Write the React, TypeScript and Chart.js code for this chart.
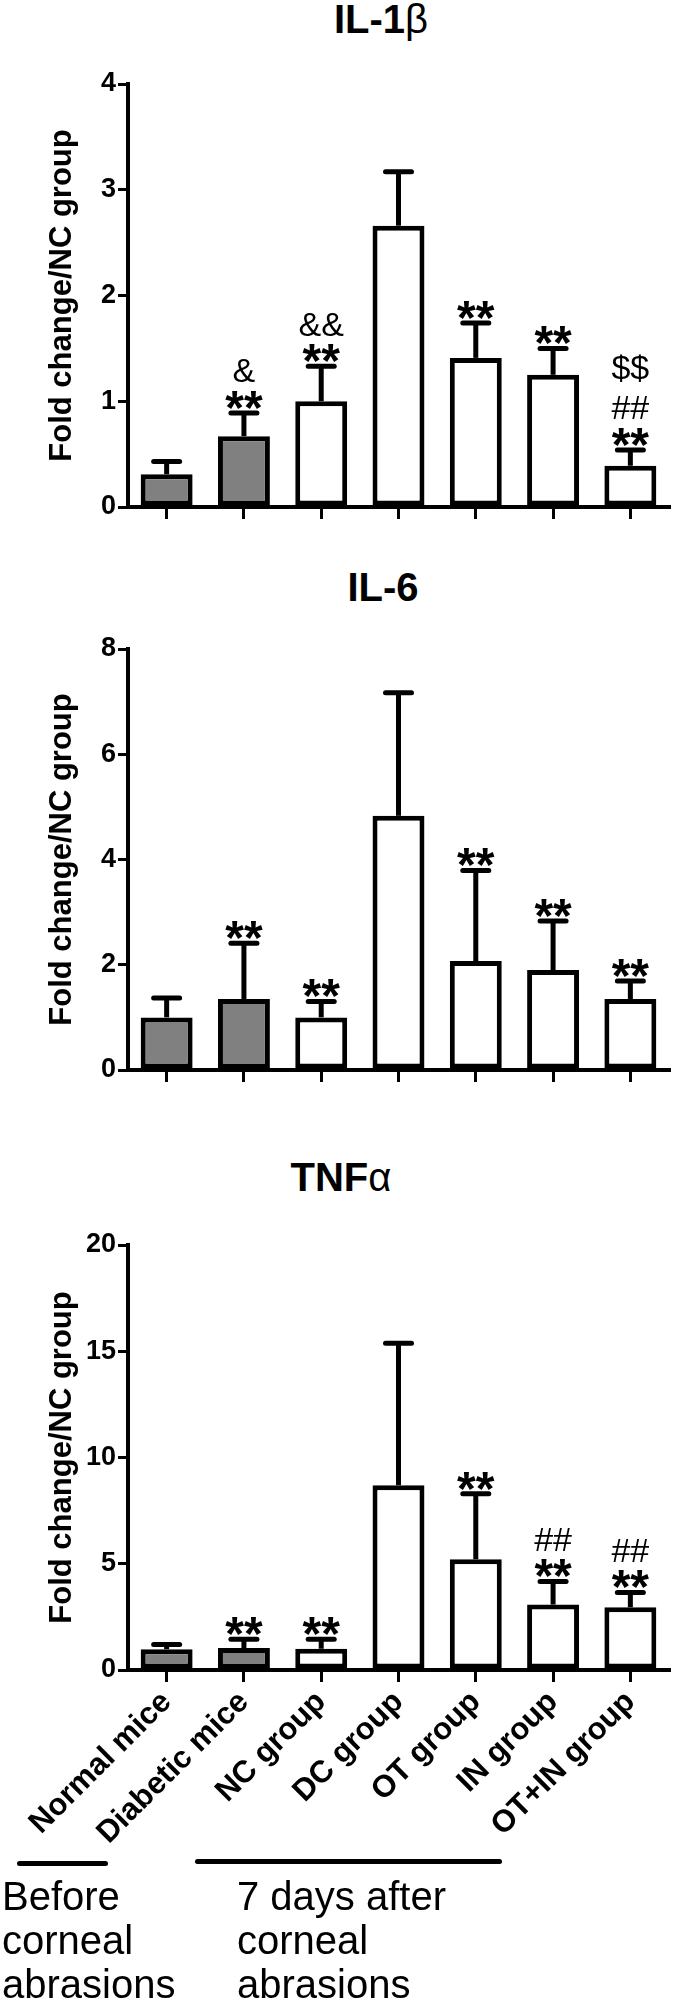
import React, { useEffect, useRef } from 'react';
import { Chart, registerables } from 'chart.js';

Chart.register(...registerables);

const FONT = "'Liberation Sans', Arial, Helvetica, sans-serif";

// ---- data ----
const categories = ['Normal mice', 'Diabetic mice', 'NC group', 'DC group', 'OT group', 'IN group', 'OT+IN group'];
const barColors = ['#808080', '#808080', '#ffffff', '#ffffff', '#ffffff', '#ffffff', '#ffffff'];

const il1bMean = [0.31, 0.67, 1.0, 2.66, 1.41, 1.25, 0.39];
const il1bErr = [0.12, 0.22, 0.33, 0.51, 0.33, 0.25, 0.15];
const il1bMarks = [[], ['**', '&'], ['**', '&&'], [], ['**'], ['**'], ['**', '##', '$$']];

const il6Mean = [1.0, 1.35, 1.0, 4.83, 2.07, 1.9, 1.35];
const il6Err = [0.37, 1.06, 0.3, 2.34, 1.72, 0.93, 0.34];
const il6Marks = [[], ['**'], ['**'], [], ['**'], ['**'], ['**']];

const tnfMean = [0.98, 1.03, 1.0, 8.7, 5.21, 3.08, 2.95];
const tnfErr = [0.22, 0.42, 0.45, 6.68, 3.09, 1.09, 0.7];
const tnfMarks = [[], ['**'], ['**'], [], ['**'], ['**', '##'], ['**', '##']];

const yTitle = 'Fold change/NC group';
const groupLabels = [['Before', 'corneal', 'abrasions'], ['7 days after', 'corneal', 'abrasions']];

type PanelProps = {
  top: number;
  height: number;
  padTop: number;
  xHeight: number;
  mean: number[];
  err: number[];
  marks: string[][];
  max: number;
  step: number;
  showLabels: boolean;
};

function Panel(p: PanelProps) {
  const ref = useRef<HTMLCanvasElement | null>(null);
  useEffect(() => {
    if (!ref.current) return;
    const errMarks = {
      id: 'errMarks',
      afterDatasetsDraw(chart: any) {
        const ctx = chart.ctx;
        const meta = chart.getDatasetMeta(0);
        const ys = chart.scales.y;
        ctx.save();
        meta.data.forEach((bar: any, i: number) => {
          const x = bar.x;
          const topPx = ys.getPixelForValue(p.mean[i]);
          const capPx = ys.getPixelForValue(p.mean[i] + p.err[i]);
          ctx.strokeStyle = '#000';
          ctx.lineWidth = 5;
          ctx.lineCap = 'butt';
          ctx.beginPath();
          ctx.moveTo(x, topPx);
          ctx.lineTo(x, capPx);
          ctx.stroke();
          ctx.lineCap = 'round';
          ctx.beginPath();
          ctx.moveTo(x - 13, capPx);
          ctx.lineTo(x + 13, capPx);
          ctx.stroke();
          let c = capPx - 16;
          ctx.fillStyle = '#000';
          ctx.textAlign = 'center';
          ctx.textBaseline = 'alphabetic';
          (p.marks[i] || []).forEach((m) => {
            if (m === '**') {
              ctx.font = `bold 48px ${FONT}`;
              ctx.fillText(m, x, c + 0.56 * 48);
              c -= 27;
            } else {
              ctx.font = `34px ${FONT}`;
              ctx.fillText(m, x, c + 0.36 * 34);
              c -= 40;
            }
          });
        });
        ctx.restore();
      },
    };
    const chart = new Chart(ref.current, {
      type: 'bar',
      data: {
        labels: categories,
        datasets: [
          {
            data: p.mean,
            backgroundColor: barColors,
            borderColor: '#000',
            borderWidth: 5,
            borderSkipped: false,
            barPercentage: 0.672,
            categoryPercentage: 1,
          },
        ],
      },
      options: {
        animation: false,
        responsive: false,
        maintainAspectRatio: false,
        devicePixelRatio: 1,
        events: [],
        layout: { padding: { top: p.padTop, right: 6, left: 0, bottom: 0 } },
        plugins: { legend: { display: false }, tooltip: { enabled: false }, title: { display: false } },
        scales: {
          x: {
            offset: true,
            grid: { offset: false, drawOnChartArea: false, drawTicks: true, tickLength: 12, lineWidth: 3, color: '#000' },
            border: { display: true, color: '#000', width: 4 },
            ticks: {
              display: p.showLabels,
              color: '#000',
              font: { family: FONT, size: 31, weight: 'bold' },
              minRotation: 45,
              maxRotation: 45,
              padding: 2,
              autoSkip: false,
            },
            afterFit: (s: any) => {
              s.height = p.xHeight;
            },
          },
          y: {
            min: 0,
            max: p.max,
            ticks: { stepSize: p.step, color: '#000', font: { family: FONT, size: 27, weight: 'bold' }, padding: 2 },
            grid: { drawOnChartArea: false, drawTicks: true, tickLength: 10, lineWidth: 3, color: '#000' },
            border: { display: true, color: '#000', width: 4 },
            title: {
              display: true,
              text: yTitle,
              color: '#000',
              font: { family: FONT, size: 31, weight: 'bold' },
              padding: { top: 44, bottom: 0 },
            },
            afterFit: (s: any) => {
              s.width = 128;
            },
          },
        },
      } as any,
      plugins: [errMarks],
    });
    return () => chart.destroy();
  }, []);
  return (
    <canvas
      ref={ref}
      width={675}
      height={p.height}
      style={{ position: 'absolute', left: 0, top: p.top, width: 675, height: p.height }}
    />
  );
}

function Title({ cx, top, main, greek }: { cx: number; top: number; main: string; greek: string }) {
  return (
    <div
      style={{
        position: 'absolute',
        left: cx - 200,
        width: 400,
        top,
        textAlign: 'center',
        font: `bold 40px ${FONT}`,
        lineHeight: '40px',
        color: '#000',
      }}
    >
      {main}
      <span style={{ fontWeight: 'normal' }}>{greek}</span>
    </div>
  );
}

export default function App() {
  useEffect(() => {
    document.body.style.margin = '0';
  }, []);
  return (
    <div style={{ position: 'relative', width: 675, height: 2005, background: '#fff', overflow: 'hidden' }}>
      <Title cx={381} top={-1} main="IL-1" greek="β" />
      <Title cx={383} top={567} main="IL-6" greek="" />
      <Title cx={341} top={1157} main="TNF" greek="α" />
      <Panel top={0} height={540} padTop={84} xHeight={33} mean={il1bMean} err={il1bErr} marks={il1bMarks} max={4} step={1} showLabels={false} />
      <Panel top={600} height={500} padTop={49} xHeight={30} mean={il6Mean} err={il6Err} marks={il6Marks} max={8} step={2} showLabels={false} />
      <Panel top={1200} height={700} padTop={45} xHeight={230} mean={tnfMean} err={tnfErr} marks={tnfMarks} max={20} step={5} showLabels={true} />
      <div style={{ position: 'absolute', left: 17, top: 1861, width: 91, height: 5, background: '#000', borderRadius: 2.5 }} />
      <div style={{ position: 'absolute', left: 195, top: 1859, width: 307, height: 5, background: '#000', borderRadius: 2.5 }} />
      <div style={{ position: 'absolute', left: 2, top: 1874, font: `40px ${FONT}`, lineHeight: '44px', color: '#000', whiteSpace: 'nowrap' }}>
        {groupLabels[0].map((t, i) => (
          <div key={i}>{t}</div>
        ))}
      </div>
      <div style={{ position: 'absolute', left: 237, top: 1874, font: `40px ${FONT}`, lineHeight: '44px', color: '#000', whiteSpace: 'nowrap' }}>
        {groupLabels[1].map((t, i) => (
          <div key={i}>{t}</div>
        ))}
      </div>
    </div>
  );
}
